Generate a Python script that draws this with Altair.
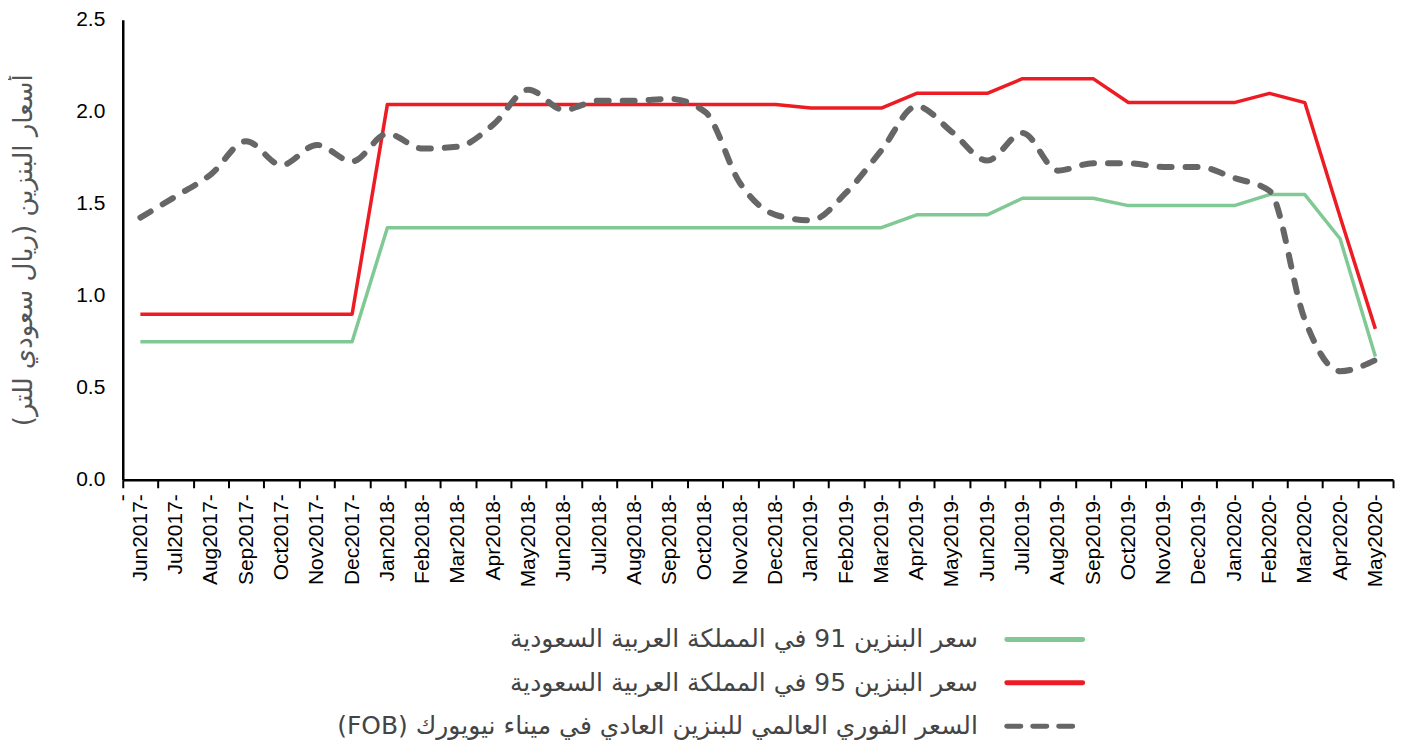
import altair as alt
import pandas as pd

months = ["Jun2017", "Jul2017", "Aug2017", "Sep2017", "Oct2017", "Nov2017", "Dec2017",
          "Jan2018", "Feb2018", "Mar2018", "Apr2018", "May2018", "Jun2018", "Jul2018",
          "Aug2018", "Sep2018", "Oct2018", "Nov2018", "Dec2018", "Jan2019", "Feb2019",
          "Mar2019", "Apr2019", "May2019", "Jun2019", "Jul2019", "Aug2019", "Sep2019",
          "Oct2019", "Nov2019", "Dec2019", "Jan2020", "Feb2020", "Mar2020", "Apr2020",
          "May2020"]

p91 = [0.75, 0.75, 0.75, 0.75, 0.75, 0.75, 0.75,
       1.37, 1.37, 1.37, 1.37, 1.37, 1.37, 1.37,
       1.37, 1.37, 1.37, 1.37, 1.37, 1.37, 1.37,
       1.37, 1.44, 1.44, 1.44, 1.53, 1.53, 1.53,
       1.49, 1.49, 1.49, 1.49, 1.55, 1.55, 1.31,
       0.67]

p95 = [0.90, 0.90, 0.90, 0.90, 0.90, 0.90, 0.90,
       2.04, 2.04, 2.04, 2.04, 2.04, 2.04, 2.04,
       2.04, 2.04, 2.04, 2.04, 2.04, 2.02, 2.02,
       2.02, 2.10, 2.10, 2.10, 2.18, 2.18, 2.18,
       2.05, 2.05, 2.05, 2.05, 2.10, 2.05, 1.43,
       0.82]

fob = [1.425, 1.54, 1.66, 1.84, 1.71, 1.82, 1.73,
       1.88, 1.80, 1.81, 1.93, 2.12, 2.01, 2.06,
       2.06, 2.07, 2.00, 1.61, 1.44, 1.41, 1.56,
       1.79, 2.03, 1.89, 1.735, 1.885, 1.68, 1.72,
       1.72, 1.70, 1.70, 1.64, 1.57, 0.87, 0.59,
       0.65]

RLE, PDF = "\u202b", "\u202c"
series = [
    "سعر البنزين 91 في المملكة العربية السعودية",
    "سعر البنزين 95 في المملكة العربية السعودية",
    "السعر الفوري العالمي للبنزين العادي في ميناء نيويورك (FOB)",
]
colors = ["#80c994", "#ed1c24", "#666666"]
y_title = "أسعار البنزين (ريال سعودي للتر)"
y_ticks = [0.0, 0.5, 1.0, 1.5, 2.0, 2.5]

rows = []
for name, vals in zip(series, [p91, p95, fob]):
    for m, v in zip(months, vals):
        rows.append({"month": m, "series": name, "value": v})
df = pd.DataFrame(rows)

AX_FONT = "Liberation Sans"
AR_FONT = "DejaVu Sans"

x_enc = alt.X("month:N", sort=months, title=None,
              scale=alt.Scale(paddingInner=0, paddingOuter=0),
              axis=alt.Axis(labelAngle=-90, labelExpr="datum.label + '-'",
                            labelFont=AX_FONT, labelFontSize=21, labelColor="#000",
                            labelPadding=6, tickBand="extent", tickSize=8,
                            tickWidth=2, tickColor="#000", domainColor="#000",
                            domainWidth=2.5, grid=False))
y_enc = alt.Y("value:Q", title=RLE + y_title + PDF,
              scale=alt.Scale(domain=[0, 2.5], nice=False),
              axis=alt.Axis(values=y_ticks, format=".1f", ticks=False,
                            labelFont=AX_FONT, labelFontSize=21, labelColor="#000",
                            labelPadding=18, domainColor="#000", domainWidth=2.5,
                            grid=False, titleFont=AR_FONT, titleFontSize=26,
                            titleFontWeight="normal", titleColor="#555555",
                            titlePadding=39))

color_scale = alt.Scale(domain=series, range=colors)

solid = alt.Chart(df).transform_filter(
    alt.FieldOneOfPredicate(field="series", oneOf=series[:2])
).mark_line(strokeWidth=3.5, strokeJoin="round").encode(
    x=x_enc, y=y_enc,
    color=alt.Color("series:N", scale=color_scale, legend=None),
    detail="series:N",
)

dashed = alt.Chart(df).transform_filter(
    alt.FieldEqualPredicate(field="series", equal=series[2])
).mark_line(strokeWidth=6, strokeDash=[12, 14], strokeCap="round",
            interpolate="monotone").encode(
    x=x_enc, y=y_enc,
    color=alt.Color("series:N", scale=color_scale, legend=None),
)

main = alt.layer(solid, dashed).properties(width=1273, height=461)

leg_df = pd.DataFrame({"series": series,
                       "label": [RLE + s + PDF for s in series],
                       "dash": ["solid", "solid", "dash"]})

leg_y = alt.Y("series:N", sort=series, axis=None, title=None,
              scale=alt.Scale(type="point", padding=0))

leg_text = alt.Chart(leg_df).mark_text(
    align="right", baseline="middle", font=AR_FONT, fontSize=25,
    color="#444444").encode(
    y=leg_y, x=alt.value(857), text="label:N")

leg_line = alt.Chart(leg_df).mark_rule(strokeWidth=5, strokeCap="round").encode(
    y=leg_y, x=alt.value(886), x2=alt.value(962),
    color=alt.Color("series:N", scale=color_scale, legend=None),
    strokeDash=alt.StrokeDash("dash:N", legend=None,
                              scale=alt.Scale(domain=["solid", "dash"],
                                              range=[[1, 0], [14, 12]])),
)

legend = alt.layer(leg_text, leg_line).properties(width=1273, height=87)

chart = alt.vconcat(main, legend, spacing=40).properties(
    padding={"left": 2, "top": 0, "right": 5, "bottom": 0},
    background="white",
).configure_view(stroke=None)

chart.save("out.html", embed_options={"renderer": "svg", "actions": False})
